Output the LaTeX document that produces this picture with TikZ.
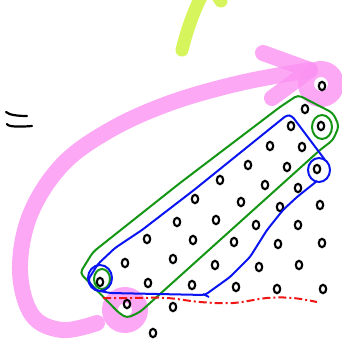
\documentclass[tikz,border=0pt]{standalone}
\usetikzlibrary{calc}
\definecolor{skPink}{HTML}{FB92F2}
\definecolor{skLime}{HTML}{D6F55C}
\definecolor{skGreen}{HTML}{149614}
\definecolor{skBlue}{HTML}{0A14F0}
\definecolor{skRed}{HTML}{F01414}
\tikzset{
  pinkpen/.style  = {skPink, opacity=0.8, line width=16pt, line cap=round, line join=round},
  limepen/.style  = {skLime, line width=13pt, line cap=round},
  greenpen/.style = {skGreen, line width=2pt, line join=round},
  bluepen/.style  = {skBlue, line width=2pt, line join=round},
  redpen/.style   = {skRed, line width=2pt, dash pattern=on 8pt off 3pt on 2pt off 3pt},
  inkpen/.style   = {black, line width=2.2pt, line cap=round},
  dotmark/.style  = {black, line width=2.1pt},
}

\begin{document}
\begin{tikzpicture}[x=1pt, y=-1pt]
  \useasboundingbox (0,0) rectangle (342,342);

  % lime strokes at the top
  \draw[limepen] (182,50) .. controls (187,30) and (193,13) .. (201,-3);
  \draw[limepen] (217,-5) -- (221,1);

  % the "=" mark
  \draw[inkpen] (6,112) .. controls (9,115) and (18,116) .. (27,116);
  \draw[inkpen] (7,124) .. controls (8,127) and (20,127) .. (32,126);

  % big pink arrow and its two rings
  \draw[pinkpen] plot[smooth, tension=0.6] coordinates {(97,323) (62,330) (32,315)
    (20,270) (30,215) (62,165) (110,130) (170,103) (240,83) (310,70)};
  \draw[pinkpen] (263,53) -- (310,70) -- (272,98);
  \draw[pinkpen] (321,84) circle[radius=15];
  \draw[pinkpen] (125,310) circle[radius=15];

  % dots
  \foreach \x/\y in {322/86, 305/109, 291/126, 321/126, 270/146, 302/147,
      248/165, 287/167, 317/169, 220/180, 265/185, 298/188, 195/199, 241/202,
      280/207, 320/205, 177/222, 216/220, 256/225, 298/225, 147/239, 193/240,
      234/242, 278/244, 322/243, 125/263, 173/259, 215/265, 259/267, 299/265,
      100/282, 148/283, 192/285, 236/287, 277/289, 323/289, 127/304, 173/307,
      153/333}
    \draw[dotmark] (\x,\y) ellipse[x radius=3.2, y radius=4.2];

  % green outline
  \draw[greenpen, rounded corners=4pt] (80,273) -- (93,252) -- (180,183) -- (280,107)
    -- (298,95) -- (333,113) -- (339,126) -- (333,140) -- (320,150) -- (140,312)
    -- (127,318) -- (119,313) -- cycle;
  \draw[greenpen] (322,127) ellipse[x radius=10, y radius=12];
  \draw[greenpen] (102,279) ellipse[x radius=8, y radius=10];

  % blue outline
  \draw[bluepen, rounded corners=3pt] (317,181) -- (297,197) -- (283,210) -- (267,230)
    -- (250,257) -- (230,277) -- (205,295) -- (110,293) -- (95,290) -- (88,280)
    -- (98,264) -- (115,248) -- (142,230) -- (168,210) -- (194,190) -- (287,115)
    -- (292,116) -- (325,160);
  \draw[bluepen] (203,294) -- (209,297);
  \draw[bluepen] (319,170) ellipse[x radius=11, y radius=12];
  \draw[bluepen] (100,278) ellipse[x radius=12, y radius=13];

  % red dashed line
  \draw[redpen] plot[smooth, tension=0.6] coordinates {(103,298) (133,298) (167,298)
    (200,302) (233,303) (267,298) (293,298) (317,302)};
\end{tikzpicture}
\end{document}
